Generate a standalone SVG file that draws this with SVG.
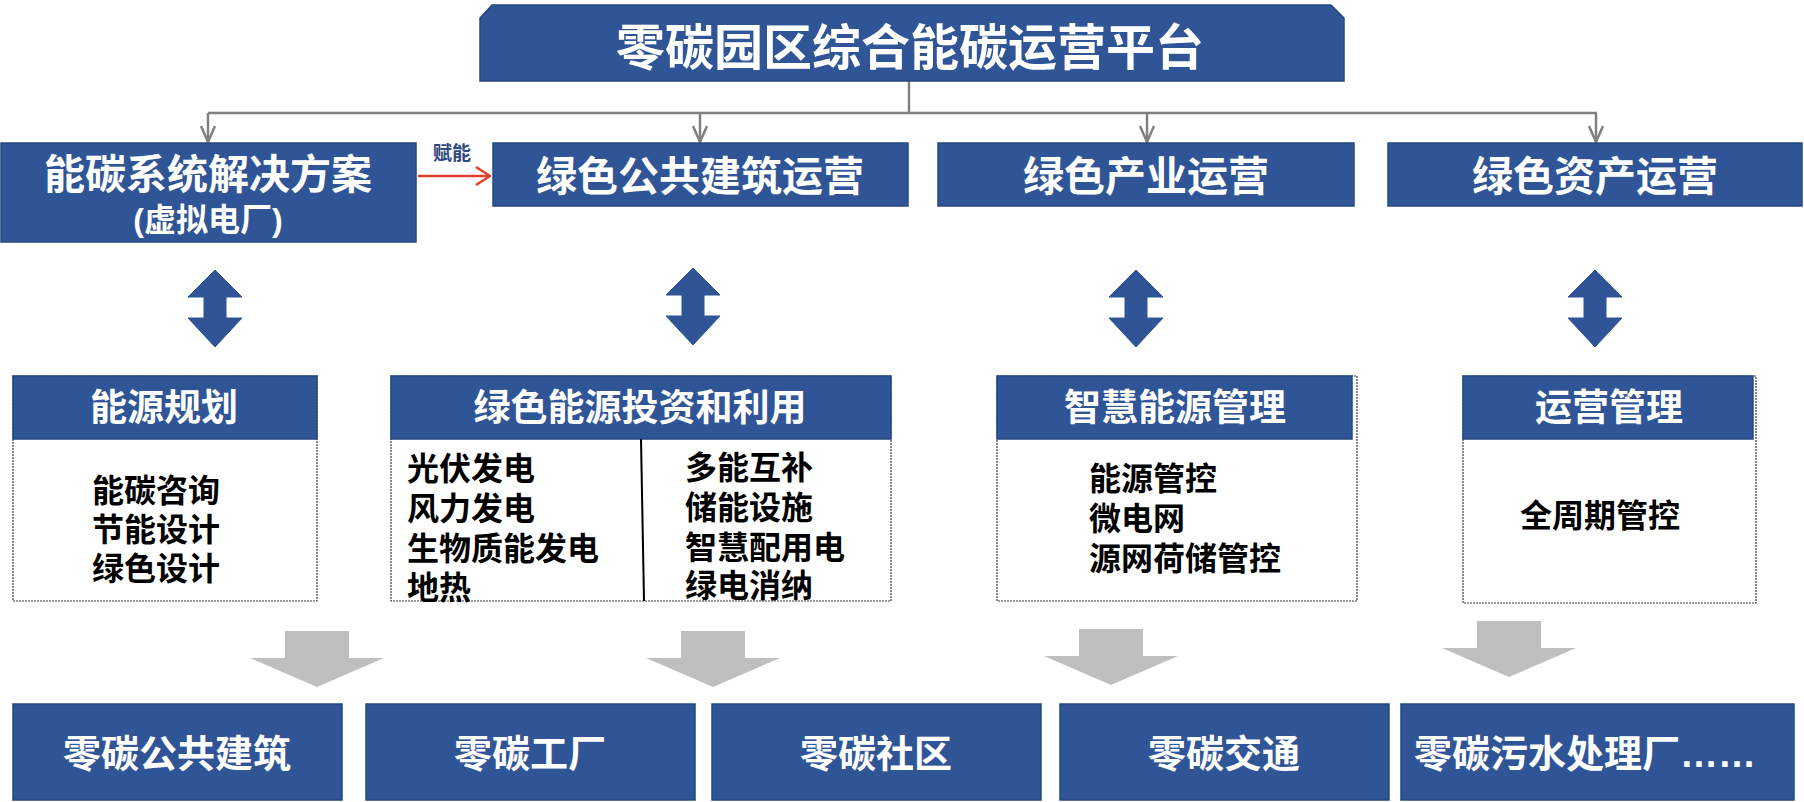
<svg xmlns="http://www.w3.org/2000/svg" width="1804" height="802" viewBox="0 0 1804 802">
<style>
.blue{fill:#2F5597;stroke:#26487F;stroke-width:1.5}
.frame{fill:#FFFFFF;stroke:#3A3A3A;stroke-width:1.2;stroke-dasharray:2 1}
.wt{font-family:"Liberation Sans","Noto Sans CJK SC",sans-serif;font-weight:700;fill:#FFFFFF;text-anchor:middle}
.bt{font-family:"Liberation Sans","Noto Sans CJK SC",sans-serif;font-weight:700;fill:#000000;font-size:32px}
.conn{fill:none;stroke:#808080;stroke-width:2.5}
.dbl{fill:#2F5597;stroke:#2F5597;stroke-width:1}
.down{fill:#BFBFBF}
</style>
<defs>
<marker id="ag" viewBox="0 0 18 16" refX="17" refY="8" markerWidth="18" markerHeight="16" markerUnits="userSpaceOnUse" orient="auto">
<path d="M1,1 L17,8 L1,15" fill="none" stroke="#808080" stroke-width="2.5"/>
</marker>
<marker id="ar" viewBox="0 0 16 20" refX="15" refY="10" markerWidth="16" markerHeight="20" markerUnits="userSpaceOnUse" orient="auto">
<path d="M1,1 L15,10 L1,19" fill="none" stroke="#E0402C" stroke-width="2.5"/>
</marker>
<path id="dblArrow" d="M0,0 L27,27 L11,27 L11,48 L27,48 L0,77 L-27,48 L-11,48 L-11,27 L-27,27 Z"/>
<path id="downArrow" d="M-32,0 L32,0 L32,27 L67,27 L0,56 L-67,27 L-32,27 Z"/>
</defs>

<g id="connectors">
<path class="conn" d="M909,81 L909,113"/>
<path class="conn" d="M208,113 L1597,113"/>
<path class="conn" d="M208,113 L208,142" marker-end="url(#ag)"/>
<path class="conn" d="M700,113 L700,142" marker-end="url(#ag)"/>
<path class="conn" d="M1147,113 L1147,142" marker-end="url(#ag)"/>
<path class="conn" d="M1596,113 L1596,142" marker-end="url(#ag)"/>
<path d="M418,176 L490,176" fill="none" stroke="#E0402C" stroke-width="2.5" marker-end="url(#ar)"/>
<text x="433" y="160" font-family="'Liberation Sans','Noto Sans CJK SC',sans-serif" font-weight="700" font-size="19" fill="#2F4A7F">赋能</text>
<use href="#dblArrow" class="dbl" x="215" y="270"/>
<use href="#dblArrow" class="dbl" x="693" y="268"/>
<use href="#dblArrow" class="dbl" x="1136" y="270"/>
<use href="#dblArrow" class="dbl" x="1595" y="270"/>
<use href="#downArrow" class="down" x="317" y="631"/>
<use href="#downArrow" class="down" x="713" y="631"/>
<use href="#downArrow" class="down" x="1111" y="629"/>
<use href="#downArrow" class="down" x="1509" y="621"/>
</g>

<g id="title">
<path class="blue" d="M492,5 L1331,5 L1344,18 L1344,81 L480,81 L480,18 Z"/>
<text class="wt" x="910" y="65" font-size="49">零碳园区综合能碳运营平台</text>
</g>

<g id="node-energy-solution">
<rect class="blue" x="1" y="143" width="415" height="99"/>
<text class="wt" x="208" y="189" font-size="41">能碳系统解决方案<tspan x="208" y="231" font-size="32">(虚拟电厂)</tspan></text>
</g>
<g id="node-green-building-ops">
<rect class="blue" x="493" y="143" width="415" height="63"/>
<text class="wt" x="700" y="191" font-size="41">绿色公共建筑运营</text>
</g>
<g id="node-green-industry-ops">
<rect class="blue" x="938" y="143" width="416" height="63"/>
<text class="wt" x="1146" y="191" font-size="41">绿色产业运营</text>
</g>
<g id="node-green-asset-ops">
<rect class="blue" x="1388" y="143" width="414" height="63"/>
<text class="wt" x="1595" y="191" font-size="41">绿色资产运营</text>
</g>

<g id="node-energy-planning">
<rect class="frame" x="13" y="376" width="304" height="225"/>
<rect class="blue" x="13" y="376" width="304" height="63"/>
<text class="wt" x="164" y="421" font-size="37">能源规划</text>
<text class="bt" x="92" y="502">能碳咨询<tspan x="92" y="541">节能设计</tspan><tspan x="92" y="580">绿色设计</tspan></text>
</g>
<g id="node-green-energy-invest">
<rect class="frame" x="391" y="376" width="500" height="225"/>
<rect class="blue" x="391" y="376" width="500" height="63"/>
<text class="wt" x="640" y="421" font-size="37">绿色能源投资和利用</text>
<line x1="641" y1="439" x2="644" y2="601" stroke="#000000" stroke-width="2"/>
<text class="bt" x="407" y="480">光伏发电<tspan x="407" y="520">风力发电</tspan><tspan x="407" y="560">生物质能发电</tspan><tspan x="407" y="599">地热</tspan></text>
<text class="bt" x="685" y="479">多能互补<tspan x="685" y="519">储能设施</tspan><tspan x="685" y="559">智慧配用电</tspan><tspan x="685" y="597">绿电消纳</tspan></text>
</g>
<g id="node-smart-energy">
<rect class="frame" x="997" y="376" width="360" height="225"/>
<rect class="blue" x="997" y="376" width="355" height="63"/>
<text class="wt" x="1175" y="421" font-size="37">智慧能源管理</text>
<text class="bt" x="1089" y="490">能源管控<tspan x="1089" y="530">微电网</tspan><tspan x="1089" y="570">源网荷储管控</tspan></text>
</g>
<g id="node-ops-management">
<rect class="frame" x="1463" y="376" width="293" height="227"/>
<rect class="blue" x="1463" y="376" width="290" height="63"/>
<text class="wt" x="1609" y="421" font-size="37">运营管理</text>
<text class="bt" x="1600" y="527" text-anchor="middle">全周期管控</text>
</g>

<g id="node-zero-building">
<rect class="blue" x="13" y="704" width="329" height="96"/>
<text class="wt" x="177" y="767" font-size="38">零碳公共建筑</text>
</g>
<g id="node-zero-factory">
<rect class="blue" x="366" y="704" width="329" height="96"/>
<text class="wt" x="530" y="767" font-size="38">零碳工厂</text>
</g>
<g id="node-zero-community">
<rect class="blue" x="712" y="704" width="329" height="96"/>
<text class="wt" x="876" y="767" font-size="38">零碳社区</text>
</g>
<g id="node-zero-transport">
<rect class="blue" x="1060" y="704" width="329" height="96"/>
<text class="wt" x="1224" y="767" font-size="38">零碳交通</text>
</g>
<g id="node-zero-wastewater">
<rect class="blue" x="1401" y="704" width="393" height="96"/>
<text class="wt" x="1585" y="767" font-size="38">零碳污水处理厂……</text>
</g>
</svg>
